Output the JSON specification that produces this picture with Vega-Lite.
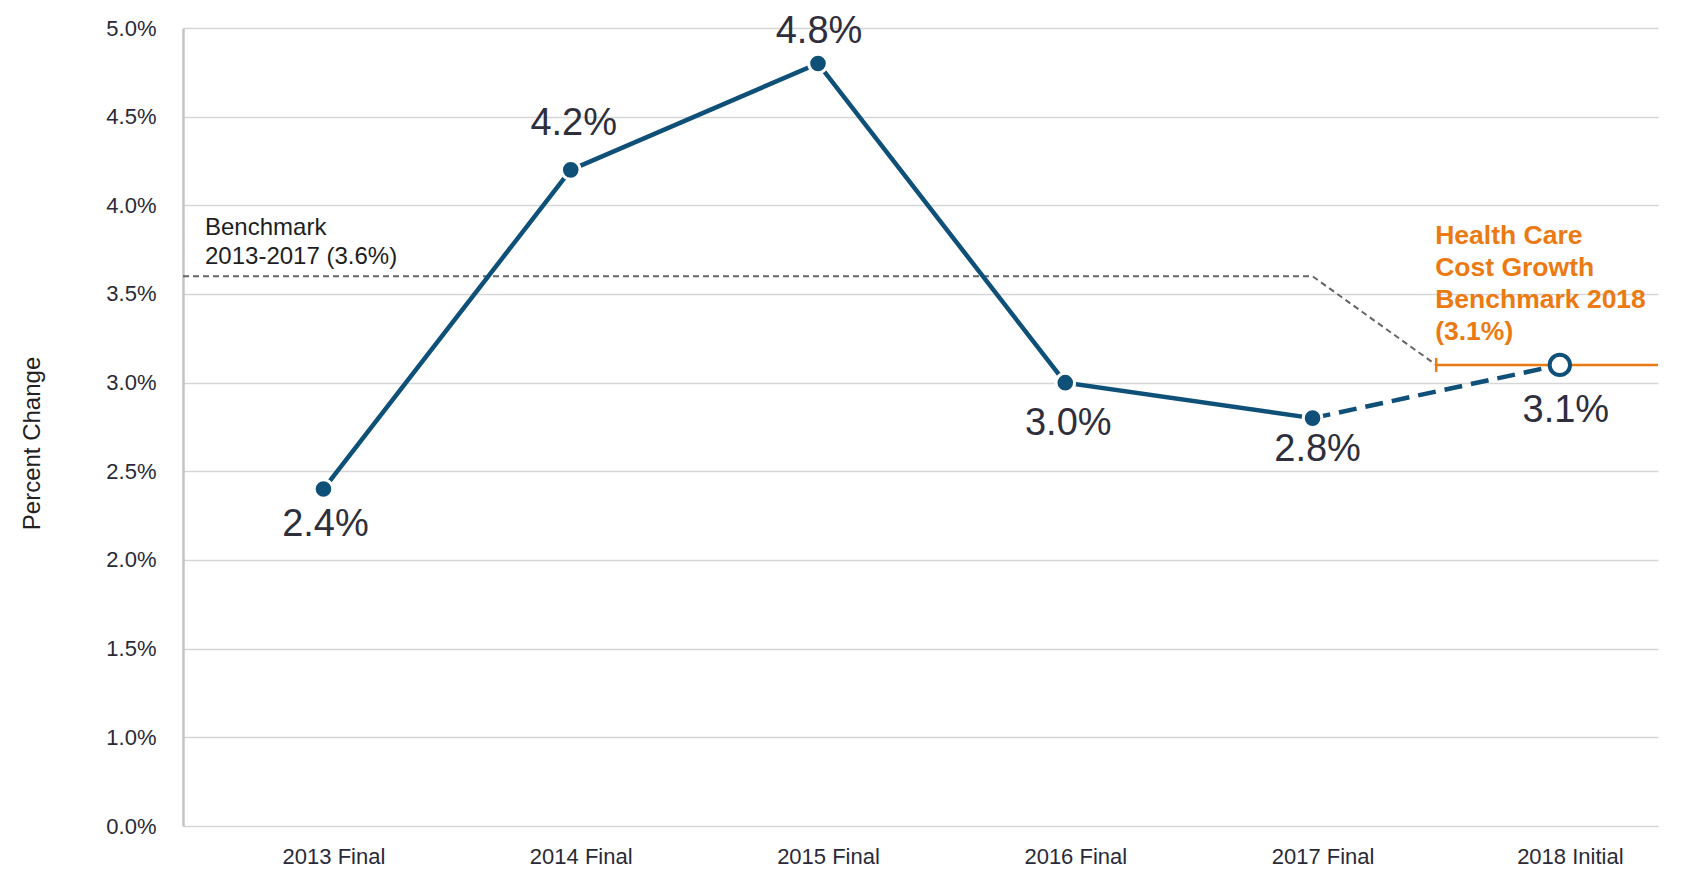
{
  "$schema": "https://vega.github.io/schema/vega-lite/v6.json",
  "width": 1475,
  "height": 798,
  "autosize": {"type": "none"},
  "padding": {"left": 183, "top": 28, "right": 44, "bottom": 44},
  "background": "white",
  "config": {"view": {"stroke": null}, "font": "Liberation Sans"},
  "datasets": {
    "main": [
      {"year": 2013, "value": 0.024, "type": "Final"},
      {"year": 2014, "value": 0.042, "type": "Final"},
      {"year": 2015, "value": 0.048, "type": "Final"},
      {"year": 2016, "value": 0.030, "type": "Final"},
      {"year": 2017, "value": 0.028, "type": "Final"},
      {"year": 2018, "value": 0.031, "type": "Initial"}
    ],
    "bench": [
      {"year": 2012.432, "value": 0.036},
      {"year": 2017, "value": 0.036},
      {"year": 2017.5, "value": 0.031}
    ],
    "target": [
      {"year": 2017.5, "value": 0.031},
      {"year": 2018.397, "value": 0.031}
    ],
    "notes": [
      {"year": 2012.432, "value": 0.036, "kind": "bench", "note": ["Benchmark", "2013-2017 (3.6%)"]},
      {"year": 2017.5, "value": 0.031, "kind": "target", "note": ["Health Care", "Cost Growth", "Benchmark 2018", "(3.1%)"]}
    ]
  },
  "layer": [
    {
      "data": {"name": "bench"},
      "mark": {"type": "line", "color": "#666666", "strokeWidth": 2, "strokeDash": [6, 4]},
      "encoding": {
        "x": {
          "field": "year", "type": "quantitative",
          "scale": {"domain": [2012.432, 2018.397], "nice": false, "zero": false},
          "axis": {
            "values": [2013, 2014, 2015, 2016, 2017, 2018],
            "labelExpr": "datum.value == 2018 ? '2018 Initial' : datum.value + ' Final'",
            "title": null, "grid": false, "ticks": false, "domain": false,
            "labelPadding": 20, "labelFontSize": 22, "labelColor": "#2a2a38", "labelOffset": 10
          }
        },
        "y": {
          "field": "value", "type": "quantitative",
          "scale": {"domain": [0, 0.01, 0.05], "range": [798, 709.33, 0], "nice": false, "zero": false},
          "axis": {
            "values": [0, 0.01, 0.015, 0.02, 0.025, 0.03, 0.035, 0.04, 0.045, 0.05],
            "format": ".1%",
            "title": "Percent Change",
            "grid": true, "gridColor": "#d6d6d6", "gridWidth": 1.3,
            "domainColor": "#c4c4c4", "domainWidth": 2.5,
            "ticks": false, "labelPadding": 27, "labelFontSize": 22, "labelColor": "#2a2a38",
            "titleFontSize": 24, "titleFontWeight": "normal", "titleColor": "#222222",
            "titleX": -151, "titleY": 415, "titleAngle": -90, "titleBaseline": "middle", "titleAlign": "center"
          }
        }
      }
    },
    {
      "data": {"name": "target"},
      "mark": {"type": "line", "color": "#EC7A12", "strokeWidth": 2.5},
      "encoding": {
        "x": {"field": "year", "type": "quantitative"},
        "y": {"field": "value", "type": "quantitative"}
      }
    },
    {
      "data": {"name": "target"},
      "transform": [{"filter": "datum.year < 2018"}],
      "mark": {"type": "tick", "orient": "vertical", "color": "#EC7A12", "size": 14, "thickness": 2.5, "opacity": 1},
      "encoding": {
        "x": {"field": "year", "type": "quantitative"},
        "y": {"field": "value", "type": "quantitative"}
      }
    },
    {
      "data": {"name": "main"},
      "transform": [{"filter": "datum.type == 'Final'"}],
      "mark": {"type": "line", "color": "#0e5078", "strokeWidth": 4.5},
      "encoding": {
        "x": {"field": "year", "type": "quantitative"},
        "y": {"field": "value", "type": "quantitative"}
      }
    },
    {
      "data": {"name": "main"},
      "transform": [{"filter": "datum.year >= 2017"}],
      "mark": {"type": "line", "color": "#0e5078", "strokeWidth": 4.5, "strokeDash": [18, 9]},
      "encoding": {
        "x": {"field": "year", "type": "quantitative"},
        "y": {"field": "value", "type": "quantitative"}
      }
    },
    {
      "data": {"name": "main"},
      "transform": [{"filter": "datum.type == 'Final'"}],
      "mark": {"type": "circle", "size": 346, "fill": "#0e5078", "stroke": "white", "strokeWidth": 3, "opacity": 1},
      "encoding": {
        "x": {"field": "year", "type": "quantitative"},
        "y": {"field": "value", "type": "quantitative"}
      }
    },
    {
      "data": {"name": "main"},
      "transform": [{"filter": "datum.type == 'Initial'"}],
      "mark": {"type": "point", "shape": "circle", "size": 415, "filled": true, "fill": "white", "stroke": "#0e5078", "strokeWidth": 4, "opacity": 1},
      "encoding": {
        "x": {"field": "year", "type": "quantitative"},
        "y": {"field": "value", "type": "quantitative"}
      }
    },
    {
      "data": {"name": "main"},
      "transform": [{"filter": "datum.year == 2014"}],
      "mark": {"type": "text", "fontSize": 38, "color": "#2e2e3c", "baseline": "middle", "dy": -46, "dx": 3},
      "encoding": {
        "x": {"field": "year", "type": "quantitative"},
        "y": {"field": "value", "type": "quantitative"},
        "text": {"field": "value", "type": "quantitative", "format": ".1%"}
      }
    },
    {
      "data": {"name": "main"},
      "transform": [{"filter": "datum.year == 2015"}],
      "mark": {"type": "text", "fontSize": 38, "color": "#2e2e3c", "baseline": "middle", "dy": -31, "dx": 1},
      "encoding": {
        "x": {"field": "year", "type": "quantitative"},
        "y": {"field": "value", "type": "quantitative"},
        "text": {"field": "value", "type": "quantitative", "format": ".1%"}
      }
    },
    {
      "data": {"name": "main"},
      "transform": [{"filter": "datum.year == 2013"}],
      "mark": {"type": "text", "fontSize": 38, "color": "#2e2e3c", "baseline": "middle", "dy": 36, "dx": 2},
      "encoding": {
        "x": {"field": "year", "type": "quantitative"},
        "y": {"field": "value", "type": "quantitative"},
        "text": {"field": "value", "type": "quantitative", "format": ".1%"}
      }
    },
    {
      "data": {"name": "main"},
      "transform": [{"filter": "datum.year == 2017"}],
      "mark": {"type": "text", "fontSize": 38, "color": "#2e2e3c", "baseline": "middle", "dy": 32, "dx": 5},
      "encoding": {
        "x": {"field": "year", "type": "quantitative"},
        "y": {"field": "value", "type": "quantitative"},
        "text": {"field": "value", "type": "quantitative", "format": ".1%"}
      }
    },
    {
      "data": {"name": "main"},
      "transform": [{"filter": "datum.year == 2016"}],
      "mark": {"type": "text", "fontSize": 38, "color": "#2e2e3c", "baseline": "middle", "dy": 41, "dx": 3},
      "encoding": {
        "x": {"field": "year", "type": "quantitative"},
        "y": {"field": "value", "type": "quantitative"},
        "text": {"field": "value", "type": "quantitative", "format": ".1%"}
      }
    },
    {
      "data": {"name": "main"},
      "transform": [{"filter": "datum.year == 2018"}],
      "mark": {"type": "text", "fontSize": 38, "color": "#2e2e3c", "baseline": "middle", "dy": 46, "dx": 6},
      "encoding": {
        "x": {"field": "year", "type": "quantitative"},
        "y": {"field": "value", "type": "quantitative"},
        "text": {"field": "value", "type": "quantitative", "format": ".1%"}
      }
    },
    {
      "data": {"name": "notes"},
      "transform": [{"filter": "datum.kind == 'bench'"}],
      "mark": {"type": "text", "fontSize": 24, "color": "#1e1e1e", "align": "left", "baseline": "top", "dx": 22, "dy": -60.5, "lineHeight": 29},
      "encoding": {
        "x": {"field": "year", "type": "quantitative"},
        "y": {"field": "value", "type": "quantitative"},
        "text": {"field": "note"}
      }
    },
    {
      "data": {"name": "notes"},
      "transform": [{"filter": "datum.kind == 'target'"}],
      "mark": {"type": "text", "fontSize": 26.5, "fontWeight": "bold", "color": "#EC7A12", "align": "left", "baseline": "top", "dx": -1, "dy": -141.5, "lineHeight": 32},
      "encoding": {
        "x": {"field": "year", "type": "quantitative"},
        "y": {"field": "value", "type": "quantitative"},
        "text": {"field": "note"}
      }
    }
  ]
}
